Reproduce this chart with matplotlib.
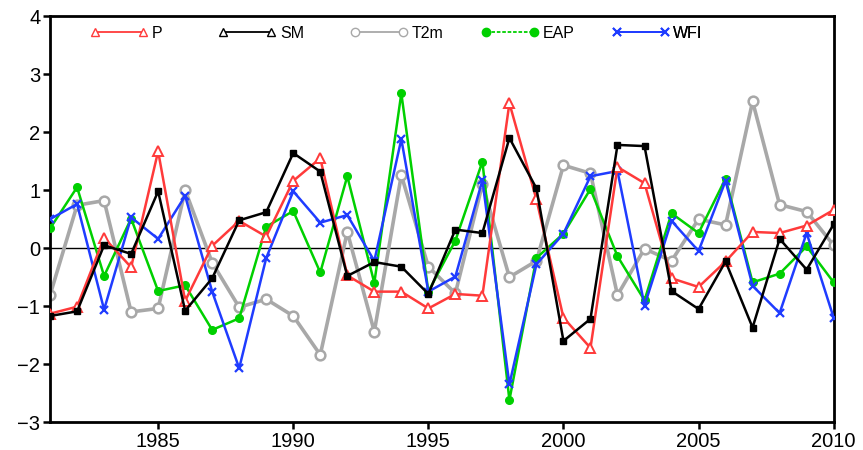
import numpy as np
import matplotlib
matplotlib.use("Agg")
import matplotlib.pyplot as plt
from matplotlib.lines import Line2D

plt.rcParams["font.family"] = ["Liberation Sans", "DejaVu Sans"]

years = np.arange(1981, 2011)

# standardized anomalies
p = [-1.13, -1.01, 0.18, -0.33, 1.67, -0.91, 0.04, 0.47, 0.20, 1.16,
     1.55, -0.47, -0.75, -0.75, -1.04, -0.79, -0.82, 2.50, 0.84, -1.20,
     -1.72, 1.40, 1.12, -0.52, -0.67, -0.23, 0.28, 0.26, 0.39, 0.66]
sm = [-1.17, -1.09, 0.05, -0.10, 0.98, -1.08, -0.52, 0.48, 0.62, 1.64,
      1.32, -0.48, -0.24, -0.32, -0.79, 0.32, 0.26, 1.90, 1.03, -1.60,
      -1.22, 1.78, 1.76, -0.74, -1.05, -0.23, -1.37, 0.16, -0.37, 0.41]
t2m = [-0.81, 0.74, 0.82, -1.10, -1.04, 1.00, -0.25, -1.02, -0.88, -1.17,
       -1.84, 0.28, -1.44, 1.26, -0.32, -0.78, 1.10, -0.50, -0.22, 1.43,
       1.29, -0.81, -0.01, -0.22, 0.50, 0.40, 2.53, 0.75, 0.63, 0.05]
eap = [0.34, 1.05, -0.48, 0.51, -0.74, -0.64, -1.41, -1.21, 0.37, 0.64,
       -0.42, 1.24, -0.60, 2.67, -0.75, 0.13, 1.49, -2.62, -0.17, 0.25,
       1.02, -0.14, -0.90, 0.60, 0.26, 1.20, -0.59, -0.44, 0.03, -0.59]
wfi = [0.50, 0.76, -1.06, 0.53, 0.16, 0.90, -0.75, -2.07, -0.17, 0.98,
       0.44, 0.57, -0.22, 1.88, -0.75, -0.49, 1.17, -2.35, -0.28, 0.25,
       1.24, 1.33, -0.99, 0.47, -0.05, 1.16, -0.65, -1.12, 0.26, -1.20]
names = ["P", "SM", "T2m", "EAP", "WFI"]

fig = plt.figure(figsize=(8.63, 4.5), dpi=100)
ax = fig.add_axes([0.058, 0.062, 0.908, 0.902])

ax.axhline(0, color="black", lw=1.0, zorder=1)

ax.plot(years, t2m, color="#a8a8a8", lw=2.6, marker="o", ms=7,
        mfc="white", mec="#a8a8a8", mew=1.8, zorder=2)
ax.plot(years, eap, color="#00d000", lw=1.8, marker="o", ms=5.5,
        mfc="#00d000", mec="#00d000", zorder=3)
ax.plot(years, wfi, color="#1f3cff", lw=1.8, marker="x", ms=6,
        mew=1.6, zorder=4)
ax.plot(years, p, color="#ff3a3a", lw=1.8, marker="^", ms=6.5,
        mfc="white", mec="#ff3a3a", mew=1.4, zorder=5)
ax.plot(years, sm, color="black", lw=1.8, marker="s", ms=5,
        mfc="black", mec="black", zorder=6)

# legend: one entry per legend so the entries sit at an even spacing
handles = [
    Line2D([], [], color="#ff3a3a", lw=1.3, marker="^", ms=6, mfc="white", mec="#ff3a3a"),
    Line2D([], [], color="black", lw=1.3, marker="^", ms=6, mfc="white", mec="black"),
    Line2D([], [], color="#a8a8a8", lw=1.3, marker="o", ms=6, mfc="white", mec="#a8a8a8"),
    Line2D([], [], color="#00d000", lw=1.3, ls=(0, (2, 1)), marker="o", ms=6,
           mfc="#00d000", mec="#00d000"),
    Line2D([], [], color="#1f3cff", lw=1.3, marker="x", ms=6, mew=1.4),
]
leg_x = [0.051, 0.215, 0.383, 0.550, 0.717]
for h, name, x0 in zip(handles, names, leg_x):
    leg = ax.legend([h], [name], numpoints=2, handlelength=3.6,
                    handletextpad=0.25, frameon=False, fontsize=11.5,
                    loc="center left", bbox_to_anchor=(x0, 0.958),
                    borderaxespad=0, borderpad=0)
    ax.add_artist(leg)

ax.set_xlim(1981, 2010)
ax.set_ylim(-3, 4)
ax.set_xticks(np.arange(1985, 2011, 5))
ax.set_yticks(np.arange(-3, 5, 1))
ax.tick_params(direction="out", length=5, width=1.8, labelsize=14.5, pad=2)
for s in ax.spines.values():
    s.set_linewidth(2)

fig.savefig("out.png", dpi=100)
